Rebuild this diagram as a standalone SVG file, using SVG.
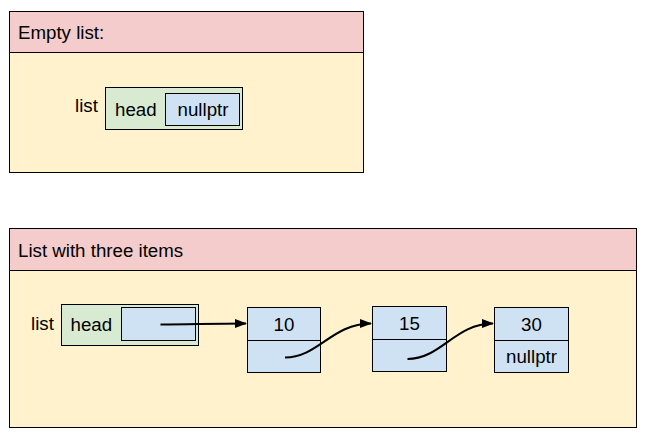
<svg xmlns="http://www.w3.org/2000/svg" width="654" height="440" viewBox="0 0 654 440">
<defs>
<style>
.hdr{fill:#f4cccc;stroke:#000;stroke-width:1}
.body{fill:#fff2cc;stroke:#000;stroke-width:1}
.grn{fill:#d9ead3;stroke:#000;stroke-width:1}
.blu{fill:#cfe2f3;stroke:#000;stroke-width:1}
.t{font-family:"Liberation Sans",Arial,sans-serif;font-size:18.7px;fill:#000}
.m{text-anchor:middle}
.con{fill:none;stroke:#000;stroke-width:2;marker-end:url(#ah)}
</style>
<marker id="ah" viewBox="0 0 12 10" refX="11" refY="5" markerWidth="12" markerHeight="10" markerUnits="userSpaceOnUse" orient="auto">
<path d="M0,0.5 L12,5 L0,9.5 z" fill="#000"/>
</marker>
</defs>
<g id="panel-empty">
<rect class="body" x="9.5" y="11.5" width="354" height="161"/>
<rect class="hdr" x="9.5" y="11.5" width="354" height="41"/>
<text class="t" x="18" y="39">Empty list:</text>
</g>
<g id="list-empty">
<text class="t" x="75" y="112">list</text>
<rect class="grn" x="105.5" y="87.5" width="137" height="42"/>
<text class="t" x="115" y="115.5">head</text>
<rect class="blu" x="165.5" y="93.5" width="74" height="32"/>
<text class="t m" x="203" y="116">nullptr</text>
</g>
<g id="panel-three">
<rect class="body" x="9.5" y="228.5" width="627" height="199"/>
<rect class="hdr" x="9.5" y="228.5" width="627" height="42"/>
<text class="t" x="18" y="257">List with three items</text>
</g>
<g id="list-three">
<text class="t" x="31" y="329.5">list</text>
<rect class="grn" x="61.5" y="304.5" width="137" height="41"/>
<text class="t" x="70.5" y="330.5">head</text>
<rect class="blu" x="121.5" y="307.5" width="74" height="33"/>
</g>
<g id="node-10">
<rect class="blu" x="247.5" y="307.5" width="73" height="65"/>
<line x1="247.5" y1="340.5" x2="320.5" y2="340.5" stroke="#000" stroke-width="1"/>
<text class="t m" x="284" y="331">10</text>
</g>
<g id="node-15">
<rect class="blu" x="372.5" y="306.5" width="74" height="65"/>
<line x1="372.5" y1="339.5" x2="446.5" y2="339.5" stroke="#000" stroke-width="1"/>
<text class="t m" x="409.5" y="330">15</text>
</g>
<g id="node-30">
<rect class="blu" x="494.5" y="307.5" width="74" height="65"/>
<line x1="494.5" y1="340.5" x2="568.5" y2="340.5" stroke="#000" stroke-width="1"/>
<text class="t m" x="531.5" y="331">30</text>
<text class="t m" x="531.5" y="363">nullptr</text>
</g>
<g id="connectors">
<path class="con" d="M160.5,324.5 C190,324.5 210,323.5 246,323.5"/>
<path class="con" d="M285,357.5 C318,357.5 332,323.5 371,323.5"/>
<path class="con" d="M407.5,359 C441,359 455,323.5 493,323.5"/>
</g>
</svg>
